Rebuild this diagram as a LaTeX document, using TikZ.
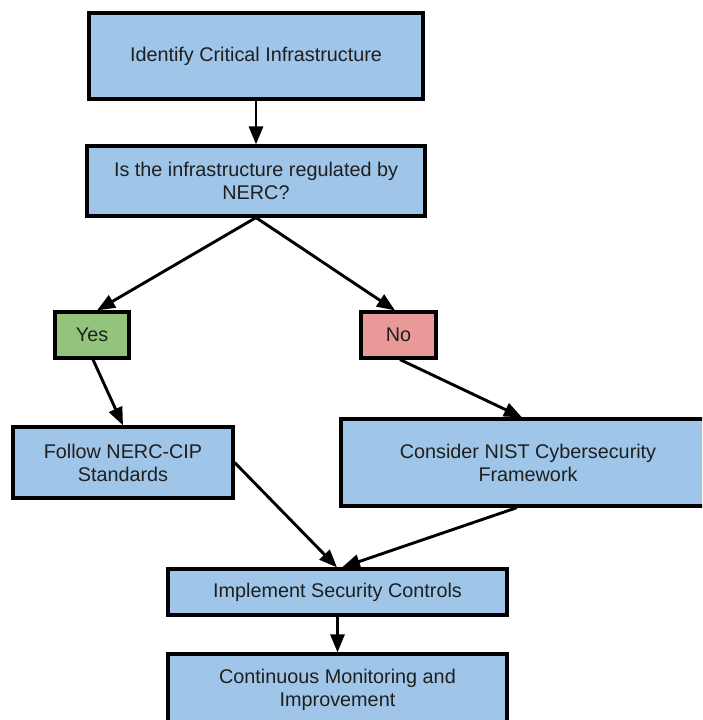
\documentclass[tikz,border=0pt]{standalone}
\usepackage{fontspec}
\setmainfont{Liberation Sans}
\usetikzlibrary{arrows.meta}
\definecolor{boxblue}{HTML}{9FC5E8}
\definecolor{boxgreen}{HTML}{93C47D}
\definecolor{boxred}{HTML}{EA9999}
\definecolor{txt}{HTML}{1F1F1F}
\tikzset{
  box/.style={draw=black, line width=3.2pt, fill=boxblue, inner sep=0pt, align=center,
    text=txt, font=\fontsize{19.8}{23}\selectfont},
  arr/.style={line width=2.9pt, -{Triangle[length=18pt,width=14pt]}},
}
\begin{document}
\begin{tikzpicture}[x=1pt,y=-1pt]
\useasboundingbox (0,0) rectangle (702,720);
\clip (0,0) rectangle (702,720);
\node[box, minimum width=334pt, minimum height=86pt] (b1) at (256,56) {Identify Critical Infrastructure};
\node[box, minimum width=338pt, minimum height=70pt] (b2) at (256,181) {Is the infrastructure regulated by\\NERC?};
\node[box, fill=boxgreen, minimum width=74pt, minimum height=46pt] (yes) at (92,335) {Yes};
\node[box, fill=boxred, minimum width=75pt, minimum height=46pt] (no) at (398.5,335) {No};
\node[box, minimum width=220pt, minimum height=71pt] (follow) at (123,462.5) {Follow NERC-CIP\\Standards};
\node[box, minimum width=374pt, minimum height=87pt] (nist) at (528,462.5) {Consider NIST Cybersecurity\\Framework};
\node[box, minimum width=339pt, minimum height=46pt] (impl) at (337.5,592) {Implement Security Controls};
\node[box, minimum width=339pt, minimum height=72pt] (cont) at (337.5,690) {Continuous Monitoring and\\Improvement};

\draw[arr] (b1.south) -- (b2.north);
\draw[arr] (b2.south) -- ([xshift=5pt]yes.north);
\draw[arr] (b2.south) -- ([xshift=-3.5pt]no.north);
\draw[arr] ([xshift=1pt]yes.south) -- (follow.north);
\draw[arr] ([xshift=1.5pt]no.south) -- ([xshift=-6pt]nist.north);
\draw[arr] (follow.east) -- ([xshift=-0.5pt]impl.north);
\draw[arr] ([xshift=-11pt]nist.south) -- ([xshift=4.5pt]impl.north);
\draw[arr] (impl.south) -- (cont.north);
\end{tikzpicture}
\end{document}
